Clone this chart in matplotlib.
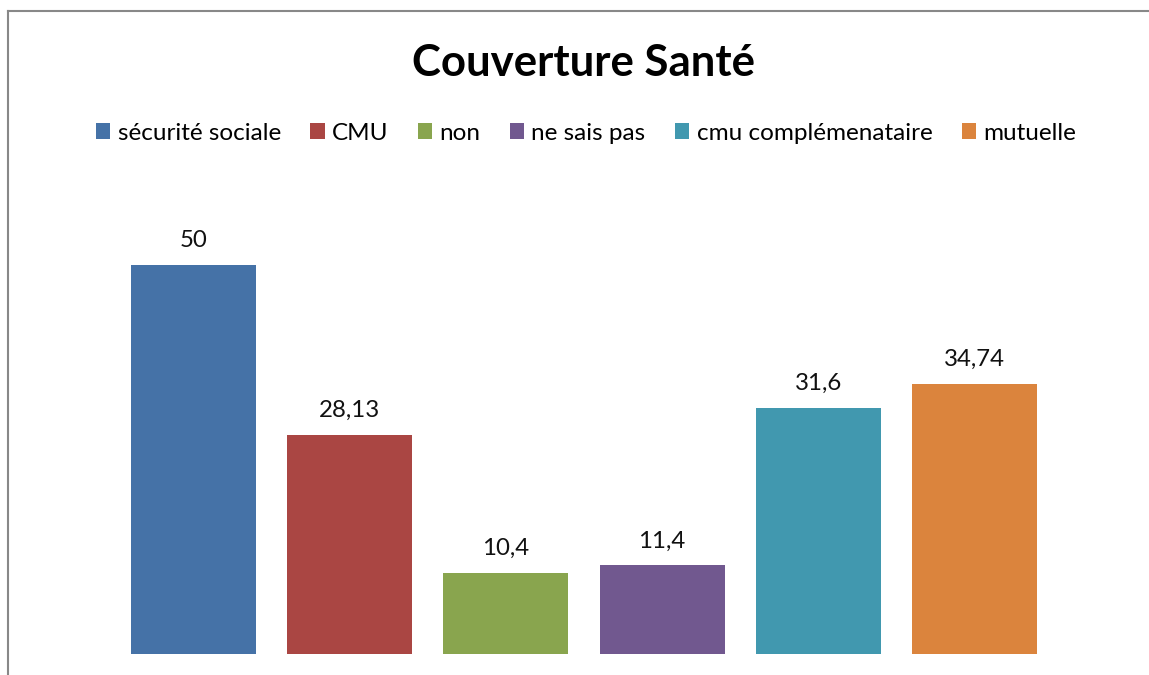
import matplotlib.pyplot as plt
from matplotlib.patches import Patch
from matplotlib.lines import Line2D

categories = ['sécurité sociale', 'CMU', 'non', 'ne sais pas',
              'cmu complémenataire', 'mutuelle']
values = [50, 28.13, 10.4, 11.4, 31.6, 34.74]
labels = ['50', '28,13', '10,4', '11,4', '31,6', '34,74']
colors = ['#4572A7', '#AA4643', '#89A54E', '#71588F', '#4198AF', '#DB843D']

plt.rcParams['font.family'] = ['Lato', 'DejaVu Sans']

W, H = 1149, 675
fig = plt.figure(figsize=(W / 100, H / 100), dpi=100)
ax = fig.add_axes([115.4 / W, (H - 654) / H, 937.2 / W, 467 / H])

x = list(range(len(values)))
ax.bar(x, values, width=0.8, color=colors)
for xi, v, lab in zip(x, values, labels):
    ax.annotate(lab, (xi, v), xytext=(0, 10), textcoords='offset points',
                ha='center', va='bottom', fontsize=17.3, color='#111111')

ax.set_xlim(-0.5, len(values) - 0.5)
ax.set_ylim(0, 60)
ax.axis('off')

fig.text(584 / W, 1 - 63 / H, 'Couverture Santé', ha='center', va='center',
         fontsize=31.5, fontweight='bold')

handles = [Patch(facecolor=c, label=n) for c, n in zip(colors, categories)]
fig.legend(handles=handles, loc='center', bbox_to_anchor=(586 / W, 1 - 133 / H),
           ncol=6, frameon=False, fontsize=17.5, handlelength=0.6,
           handleheight=0.6, handletextpad=0.3, columnspacing=1.2)

# chart area border (only left and top edges are visible)
fig.add_artist(Line2D([7.5 / W, 7.5 / W], [0, 1 - 11 / H], color='#888888', lw=1.5))
fig.add_artist(Line2D([7.5 / W, 1], [1 - 11 / H, 1 - 11 / H], color='#888888', lw=1.5))

fig.savefig('out.png', dpi=100)
